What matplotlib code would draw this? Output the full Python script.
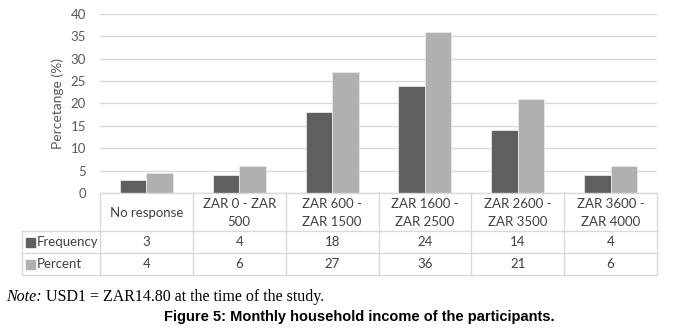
import matplotlib.pyplot as plt
import numpy as np

categories = ["No response", "ZAR 0 - ZAR\n500", "ZAR 600 -\nZAR 1500",
              "ZAR 1600 -\nZAR 2500", "ZAR 2600 -\nZAR 3500", "ZAR 3600 -\nZAR 4000"]
frequency = [3, 4, 18, 24, 14, 4]
percent = [4.4, 6, 27, 36, 21, 6]
series_names = ["Frequency", "Percent"]
colors = ["#5f5f5f", "#b0b0b0"]
yticks = [0, 5, 10, 15, 20, 25, 30, 35, 40]

W, H = 684, 333
fig = plt.figure(figsize=(W / 100, H / 100), dpi=100)
plt.rcParams['font.family'] = ['Lato', 'DejaVu Sans']

# plot area in pixels
x0, x1 = 100, 657
y_top, y_zero = 14, 193
ax = fig.add_axes([x0 / W, 1 - y_zero / H, (x1 - x0) / W, (y_zero - y_top) / H])

x = np.arange(len(categories))
bw = 0.285
ax.bar(x - bw / 2, frequency, bw, color=colors[0], edgecolor="#e8e8e8", linewidth=0.6, zorder=3)
ax.bar(x + bw / 2, percent, bw, color=colors[1], edgecolor="#e8e8e8", linewidth=0.6, zorder=3)
ax.set_xlim(-0.5, len(categories) - 0.5)
ax.set_ylim(0, 40)
ax.set_yticks(yticks)
ax.set_xticks([])
ax.tick_params(axis="y", length=0, labelsize=9.5, labelcolor="#595959", pad=10)
ax.grid(axis="y", color="#d9d9d9", linewidth=1, zorder=0)
for s in ax.spines.values():
    s.set_visible(False)
ax.set_ylabel("Percetange (%)", fontsize=10, color="#595959", labelpad=5)

# table drawn on an overlay in pixel coordinates
ov = fig.add_axes([0, 0, 1, 1])
ov.set_xlim(0, W)
ov.set_ylim(H, 0)
ov.axis("off")
lc = "#d9d9d9"
colw = (x1 - x0) / len(categories)
lab_x0 = 22
hdr_bot, r1_bot, r2_bot = 231, 253, 275

ov.plot([x0, x1], [y_zero, y_zero], color=lc, lw=1)
for yy in [hdr_bot, r1_bot, r2_bot]:
    ov.plot([lab_x0, x1], [yy, yy], color=lc, lw=1)
for i in range(len(categories) + 1):
    ov.plot([x0 + i * colw] * 2, [y_zero, r2_bot], color=lc, lw=1)
ov.plot([lab_x0, lab_x0], [hdr_bot, r2_bot], color=lc, lw=1)

tc = "#404040"
fs = 9.5
for i, c in enumerate(categories):
    cx = x0 + (i + 0.5) * colw
    ov.text(cx, (y_zero + hdr_bot) / 2 + 1, c, ha="center", va="center", fontsize=fs,
            color=tc, linespacing=1.6)
    ov.text(cx, (hdr_bot + r1_bot) / 2, f"{frequency[i]:.0f}", ha="center", va="center",
            fontsize=fs, color=tc)
    ov.text(cx, (r1_bot + r2_bot) / 2, f"{percent[i]:.0f}", ha="center", va="center",
            fontsize=fs, color=tc)

for j, (name, col) in enumerate(zip(series_names, colors)):
    yc = (hdr_bot + r1_bot) / 2 if j == 0 else (r1_bot + r2_bot) / 2
    ov.add_patch(plt.Rectangle((26, yc - 4), 9, 9, color=col))
    ov.text(37, yc, name, ha="left", va="center", fontsize=fs, color=tc)

note = ov.text(6, 297, "Note:", ha="left", va="center", fontsize=11.5,
               family="Liberation Serif", style="italic", color="black")
ov.annotate(" USD1 = ZAR14.80 at the time of the study.", xy=(1, 0.5), xycoords=note,
            ha="left", va="center", fontsize=11.5, family="Liberation Serif", color="black")
ov.text(359, 317, "Figure 5: Monthly household income of the participants.", ha="center",
        va="center", fontsize=10.5, family="Liberation Sans", weight="bold", color="black")

fig.savefig("out.png", dpi=100)
